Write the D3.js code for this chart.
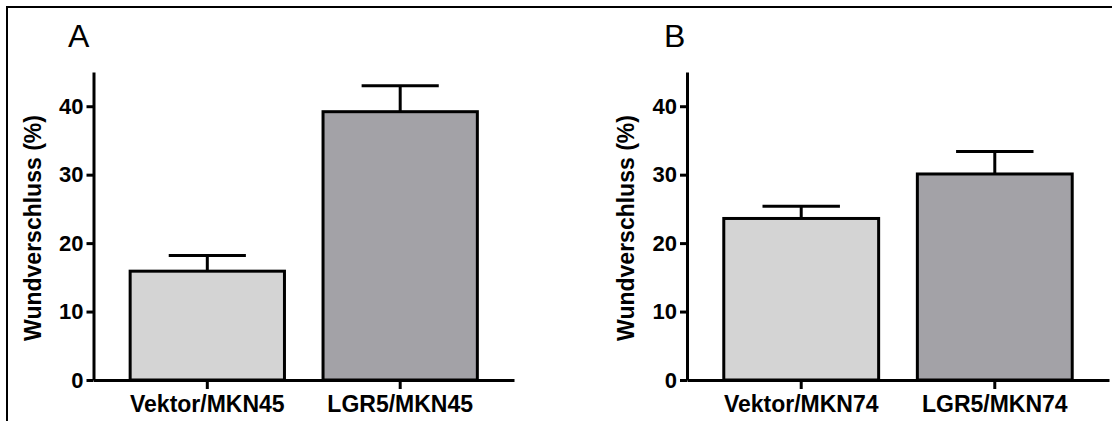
<!DOCTYPE html>
<html>
<head>
<meta charset="utf-8">
<script src="https://cdn.jsdelivr.net/npm/d3@7"></script>
<style>
  html, body { margin: 0; padding: 0; background: #fff; }
  svg { display: block; }
  text { font-family: "Liberation Sans", Arial, sans-serif; }
</style>
</head>
<body>
<svg id="chart" width="1112" height="421"></svg>
<script>
// ---- data ----
const panelLabels = ["A", "B"];
const categoriesA = ["Vektor/MKN45", "LGR5/MKN45"];
const categoriesB = ["Vektor/MKN74", "LGR5/MKN74"];
const meansA = [15.9, 39.2];
const errorsA = [2.3, 3.8];
const meansB = [23.6, 30.1];
const errorsB = [1.8, 3.3];
const yTicks = [0, 10, 20, 30, 40];
const yMax = 45;
const yTitle = "Wundverschluss (%)";
const barColors = ["#d4d4d4", "#a3a2a7"];

const svg = d3.select("#chart");

// frame
svg.append("line").attr("x1", 7).attr("x2", 7).attr("y1", 6).attr("y2", 421)
  .attr("stroke", "#000").attr("stroke-width", 2);
svg.append("line").attr("x1", 6).attr("x2", 1112).attr("y1", 7).attr("y2", 7)
  .attr("stroke", "#000").attr("stroke-width", 2);

const panels = [
  { label: panelLabels[0], cats: categoriesA, means: meansA, errs: errorsA, x0: 93.5, x1: 514, labelX: 68 },
  { label: panelLabels[1], cats: categoriesB, means: meansB, errs: errorsB, x0: 687, x1: 1109, labelX: 664 }
];

const y = d3.scaleLinear().domain([0, yMax]).range([380, 72]);

panels.forEach(p => {
  const g = svg.append("g");
  const x = d3.scaleBand().domain(p.cats).range([p.x0, p.x1])
    .paddingInner(0.2).paddingOuter(0.19);

  // panel letter
  g.append("text").attr("x", p.labelX).attr("y", 47)
    .attr("font-size", 32).attr("font-weight", "normal").text(p.label);

  // bars
  g.selectAll("rect.bar").data(p.cats).enter().append("rect")
    .attr("x", d => x(d))
    .attr("width", x.bandwidth())
    .attr("y", (d, i) => y(p.means[i]))
    .attr("height", (d, i) => y(0) - y(p.means[i]))
    .attr("fill", (d, i) => barColors[i])
    .attr("stroke", "#000").attr("stroke-width", 3);

  // error bars
  p.cats.forEach((c, i) => {
    const cx = x(c) + x.bandwidth() / 2;
    const top = y(p.means[i] + p.errs[i]);
    g.append("line").attr("x1", cx).attr("x2", cx)
      .attr("y1", y(p.means[i])).attr("y2", top)
      .attr("stroke", "#000").attr("stroke-width", 3);
    g.append("line").attr("x1", cx - x.bandwidth() / 4).attr("x2", cx + x.bandwidth() / 4)
      .attr("y1", top).attr("y2", top)
      .attr("stroke", "#000").attr("stroke-width", 3);
  });

  // y axis
  const ya = g.append("g").attr("transform", `translate(${p.x0},0)`)
    .call(d3.axisLeft(y).tickValues(yTicks).tickSize(7).tickSizeOuter(0).tickPadding(3));
  ya.select(".domain").attr("stroke-width", 3);
  ya.selectAll(".tick line").attr("stroke-width", 3);
  ya.selectAll(".tick text").attr("font-size", 22).attr("font-weight", "bold")
    .attr("font-family", "Liberation Sans, Arial, sans-serif").attr("fill", "#000");

  // x axis
  const xa = g.append("g").attr("transform", `translate(0,${y(0)})`)
    .call(d3.axisBottom(x).tickSize(9).tickSizeOuter(0).tickPadding(7));
  xa.select(".domain").attr("stroke-width", 3);
  xa.selectAll(".tick line").attr("stroke-width", 3);
  xa.selectAll(".tick text").attr("font-size", 23).attr("font-weight", "bold")
    .attr("font-family", "Liberation Sans, Arial, sans-serif").attr("fill", "#000");

  // y title
  g.append("text")
    .attr("transform", `translate(${p.x0 - 53},228) rotate(-90)`)
    .attr("text-anchor", "middle")
    .attr("font-size", 23).attr("font-weight", "bold")
    .text(yTitle);
});
</script>
</body>
</html>
